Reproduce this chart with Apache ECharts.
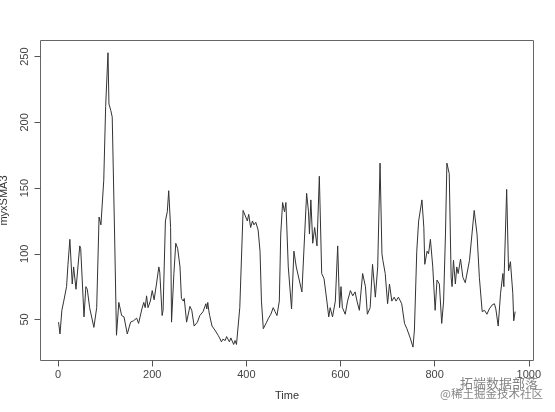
<!DOCTYPE html>
<html>
<head>
<meta charset="utf-8">
<script src="https://cdn.jsdelivr.net/npm/echarts@6/dist/echarts.min.js"></script>
<style>
html,body{margin:0;padding:0;background:#fff;}
#chart{width:555px;height:412px;}
</style>
</head>
<body>
<div id="chart"></div>
<script>
var times = [1,4,8,12,18,21,25,30,33,38,46,48,53,55,59,62,67,76,82,87,91,97,101,106,108,112,115,120,124,129,135,140,147,154,160,167,171,178,182,185,188,191,196,200,204,209,214,216,221,223,228,232,235,239,241,246,250,254,259,262,266,268,273,280,284,289,296,301,308,311,314,316,318,320,322,327,333,340,343,347,350,355,358,362,364,367,370,373,376,379,386,393,396,402,405,409,413,416,420,425,429,432,436,443,447,452,457,461,465,470,473,477,481,484,489,496,501,506,510,518,528,532,534,537,541,545,550,555,560,565,571,575,578,583,589,594,598,601,604,610,615,621,626,631,635,640,647,653,657,663,668,674,679,684,688,690,695,700,704,709,714,718,723,730,736,741,748,754,757,762,766,773,777,779,784,787,791,796,801,805,810,815,819,823,826,831,835,837,840,844,847,850,855,860,865,874,884,890,895,901,906,911,916,922,927,930,935,940,945,947,953,957,961,966,968,971];
var values = [48,39,57,64,75,92,111,77,90,73,106,104,67,52,75,73,59,44,59,128,122,156,212,253,214,209,204,115,38,63,53,52,39,48,49,51,47,58,63,59,68,59,64,72,65,77,90,86,53,57,125,132,148,120,48,85,108,104,90,66,64,66,48,60,57,45,48,53,56,57,62,58,63,57,53,45,42,38,36,33,35,34,37,38,33,36,35,31,34,31,59,133,133,125,130,120,125,122,124,118,102,64,43,48,51,54,59,56,53,64,115,139,132,139,90,58,102,90,89,71,146,132,115,141,108,120,106,159,85,81,64,52,59,52,64,106,59,75,59,54,64,72,68,71,64,57,85,75,54,59,92,67,90,169,100,95,85,62,77,64,67,64,67,62,47,43,36,29,42,102,125,141,120,92,102,100,111,90,57,80,77,47,64,115,169,161,82,75,95,77,90,85,96,82,78,95,133,115,82,56,57,54,58,61,62,58,45,70,85,75,149,87,94,70,49,56];
var xTicks = [0,200,400,600,800,1000];
var yTicks = [50,100,150,200,250];
var xTitle = "Time";
var yTitle = "myxSMA3";
var watermark1 = "拓端数据部落";
var watermark2 = "@稀土掘金技术社区";

var seriesData = times.map(function(t,i){return [t, values[i]];});

var chart = echarts.init(document.getElementById('chart'), null, {renderer:'canvas'});
var ff = 'Liberation Sans, Arial, sans-serif';
chart.setOption({
  animation:false,
  backgroundColor:'#fff',
  grid:{left:40.5, right:21.5, top:40.5, bottom:51.5, containLabel:false, outerBoundsMode:'none', show:true, borderColor:'#666', borderWidth:1, backgroundColor:'transparent'},
  xAxis:{
    type:'value', min:-37.4, max:1010,
    axisLine:{show:false, onZero:false},
    axisTick:{show:true, length:6, customValues:xTicks, lineStyle:{color:'#555'}},
    splitLine:{show:false},
    axisLabel:{margin:9, customValues:xTicks, color:'#444', fontSize:11, fontFamily:ff, formatter:function(v){return String(v);}},
    name:xTitle, nameLocation:'middle', nameGap:30,
    nameTextStyle:{color:'#333', fontSize:11, fontFamily:ff}
  },
  yAxis:{
    type:'value', min:18.8, max:262.3,
    axisLine:{show:false, onZero:false},
    axisTick:{show:true, length:6, customValues:yTicks, lineStyle:{color:'#555'}},
    splitLine:{show:false},
    axisLabel:{margin:10, rotate:90, customValues:yTicks, color:'#444', fontSize:11, fontFamily:ff, formatter:function(v){return String(v);}},
    name:yTitle, nameLocation:'middle', nameGap:31,
    nameTextStyle:{color:'#333', fontSize:11, fontFamily:ff}
  },
  series:[{
    type:'line', data:seriesData, showSymbol:false,
    lineStyle:{color:'#333', width:1}
  }],
  graphic:[
    {type:'text', left:460, top:377, style:{text:watermark1, fill:'rgba(110,110,110,0.85)', font:'13px "Noto Sans CJK SC"'}, silent:true},
    {type:'text', left:440, top:388, style:{text:watermark2, fill:'rgba(110,110,110,0.85)', font:'11.5px "Noto Sans CJK SC"'}, silent:true}
  ]
});
</script>
</body>
</html>
